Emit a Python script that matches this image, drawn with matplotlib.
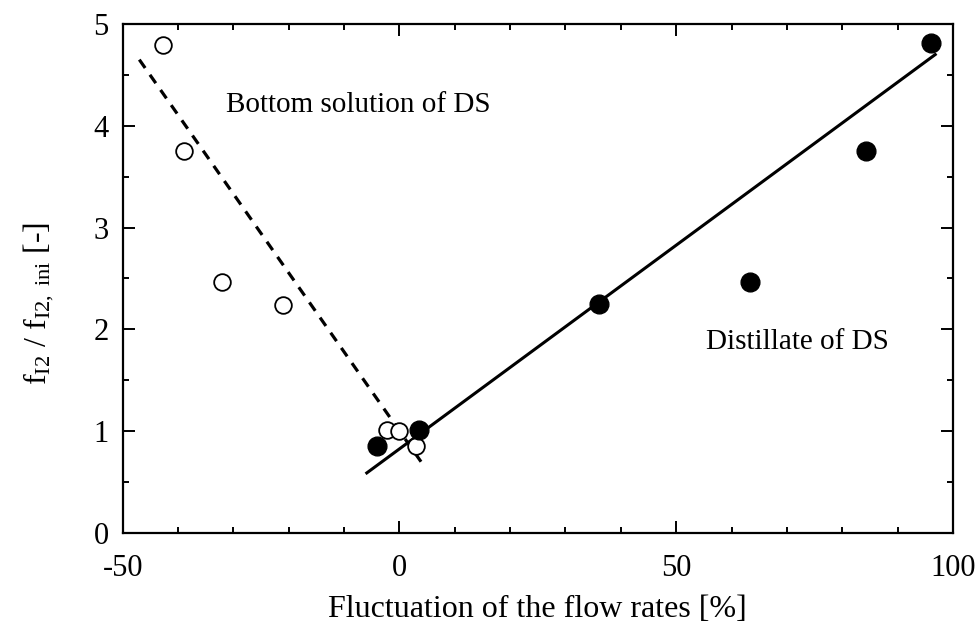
import matplotlib
matplotlib.use("Agg")
import matplotlib.pyplot as plt
from matplotlib.ticker import MultipleLocator

plt.rcParams['font.family'] = ['Liberation Serif', 'DejaVu Serif']
plt.rcParams['mathtext.fontset'] = 'custom'
plt.rcParams['mathtext.rm'] = 'Liberation Serif'
plt.rcParams['mathtext.it'] = 'Liberation Serif:italic'

# Bottom solution of DS (open circles)
bottom_x = [-42.7, -39.0, -32.0, -21.1, -2.2, 0.0, 3.0]
bottom_y = [4.79, 3.75, 2.47, 2.24, 1.01, 1.00, 0.855]
# Distillate of DS (filled circles)
dist_x = [-4.0, 3.6, 36.0, 63.4, 84.3, 96.0]
dist_y = [0.85, 1.01, 2.25, 2.47, 3.75, 4.81]
# Fitted lines
fit_bottom_x = [-47.0, 3.9]
fit_bottom_y = [4.65, 0.70]
fit_dist_x = [-5.9, 96.8]
fit_dist_y = [0.59, 4.70]

xticks = [-50, 0, 50, 100]
yticks = [0, 1, 2, 3, 4, 5]

fig = plt.figure(figsize=(9.8, 6.3), dpi=100)
ax = fig.add_axes([0.1252, 0.1540, 0.9724 - 0.1252, 0.9619 - 0.1540])

ax.plot(fit_bottom_x, fit_bottom_y, color='black', lw=2.3, ls=(0, (3.2, 2.6)))
ax.plot(fit_dist_x, fit_dist_y, color='black', lw=2.2)
ax.plot(bottom_x, bottom_y, 'o', ms=12, mfc='white', mec='black', mew=1.3)
ax.plot(dist_x, dist_y, 'o', ms=13.5, mfc='black', mec='black')

ax.set_xlim(-50, 100)
ax.set_ylim(0, 5)
ax.set_xticks(xticks)
ax.set_yticks(yticks)
ax.set_xticklabels([str(v) for v in xticks])
ax.set_yticklabels([str(v) for v in yticks])
ax.xaxis.set_minor_locator(MultipleLocator(10))
ax.yaxis.set_minor_locator(MultipleLocator(0.5))

ax.tick_params(which='both', direction='in', top=True, right=True, width=1.4)
ax.tick_params(which='major', length=8.5, labelsize=22)
ax.tick_params(which='minor', length=4.5)
ax.tick_params(axis='x', which='major', pad=15)
ax.tick_params(axis='y', which='major', pad=10)
for s in ax.spines.values():
    s.set_linewidth(1.6)

ax.set_xlabel('Fluctuation of the flow rates [%]', fontsize=23, labelpad=9)
fig.text(0.040, 0.518, r'f$_{\mathregular{I2}}$ / f$_{\mathregular{I2,\ ini}}$ [-]',
         rotation=90, ha='center', va='center', fontsize=23)

ax.text(-31.3, 4.20, 'Bottom solution of DS', fontsize=21, ha='left', va='center')
ax.text(55.4, 1.88, 'Distillate of DS', fontsize=21, ha='left', va='center')

fig.savefig('out.png', dpi=100)
